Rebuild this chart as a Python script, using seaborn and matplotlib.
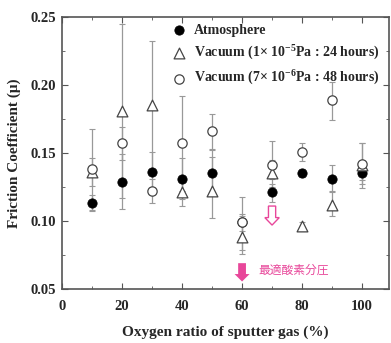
import numpy as np
import pandas as pd
import matplotlib
matplotlib.use('Agg')
import matplotlib.pyplot as plt
import seaborn as sns
from matplotlib.ticker import MultipleLocator

# Oxygen ratio (%)
oxygen = [10, 20, 30, 40, 50, 60, 70, 80, 90, 100]

# Friction coefficient, atmosphere
atm = [0.113, 0.129, 0.136, 0.131, 0.135, 0.099, 0.121, 0.135, 0.131, 0.135]
atm_lo = [0.006, 0.020, 0.016, 0.015, 0.015, 0.006, 0.007, 0.003, 0.010, 0.008]
atm_hi = [0.006, 0.020, 0.015, 0.015, 0.012, 0.006, 0.006, 0.003, 0.010, 0.008]

# Vacuum 1e-5 Pa, 24 h
vac24 = [0.136, 0.181, 0.185, 0.121, 0.122, 0.088, 0.135, 0.096, 0.112, 0.141]
vac24_lo = [0.010, 0.064, 0.047, 0.010, 0.020, 0.012, 0.010, 0.003, 0.008, 0.017]
vac24_hi = [0.010, 0.064, 0.047, 0.008, 0.030, 0.016, 0.010, 0.003, 0.010, 0.016]

# Vacuum 7e-6 Pa, 48 h
vac48 = [0.138, 0.157, 0.122, 0.157, 0.166, 0.099, 0.141, 0.151, 0.189, 0.142]
vac48_lo = [0.030, 0.012, 0.009, 0.035, 0.013, 0.020, 0.010, 0.007, 0.015, 0.012]
vac48_hi = [0.030, 0.012, 0.009, 0.035, 0.013, 0.019, 0.018, 0.006, 0.013, 0.015]

labels = ['Atmosphere',
          'Vacuum (1× 10$^{-5}$Pa : 24 hours)',
          'Vacuum (7× 10$^{-6}$Pa : 48 hours)']

sns.set_style('ticks')
plt.rcParams['font.family'] = ['Liberation Serif', 'DejaVu Serif']
plt.rcParams['mathtext.fontset'] = 'custom'
plt.rcParams['mathtext.rm'] = 'Liberation Serif:bold'
plt.rcParams['mathtext.it'] = 'Liberation Serif:bold'
plt.rcParams['mathtext.bf'] = 'Liberation Serif:bold'

fig = plt.figure(figsize=(3.91, 3.43), dpi=100)
ax = fig.add_axes([0.1586, 0.1574, 0.8365, 0.7930])

err_kw = dict(fmt='none', ecolor='#999999', elinewidth=0.9, capsize=2.5, capthick=0.8, zorder=1)
ax.errorbar(oxygen, vac48, yerr=[vac48_lo, vac48_hi], **err_kw)
ax.errorbar(oxygen, vac24, yerr=[vac24_lo, vac24_hi], **err_kw)
ax.errorbar(oxygen, atm, yerr=[atm_lo, atm_hi], **err_kw)

df = pd.DataFrame({
    'x': oxygen * 3,
    'y': atm + vac24 + vac48,
    'series': [labels[0]] * 10 + [labels[1]] * 10 + [labels[2]] * 10,
})
sns.scatterplot(data=df[df.series == labels[0]], x='x', y='y', ax=ax, marker='o',
                s=45, color='black', edgecolor='black', zorder=3, label=labels[0])
sns.scatterplot(data=df[df.series == labels[1]], x='x', y='y', ax=ax, marker='^',
                s=60, facecolor='white', edgecolor='#444444', linewidth=0.9, zorder=3, label=labels[1])
sns.scatterplot(data=df[df.series == labels[2]], x='x', y='y', ax=ax, marker='o',
                s=45, facecolor='white', edgecolor='#444444', linewidth=0.9, zorder=4, label=labels[2])

ax.set_xlim(0, 109)
ax.set_ylim(0.05, 0.25)
ax.xaxis.set_major_locator(MultipleLocator(20))
ax.xaxis.set_minor_locator(MultipleLocator(10))
ax.yaxis.set_major_locator(MultipleLocator(0.05))
ax.yaxis.set_minor_locator(MultipleLocator(0.025))
ax.set_yticklabels([f'{v:.2f}' for v in ax.get_yticks()])
ax.tick_params(which='both', direction='in', top=True, right=True, color='#555555')
ax.tick_params(axis='y', which='major', length=4, labelsize=10.5, pad=4)
ax.tick_params(axis='x', which='major', length=4, labelsize=10.5, pad=8)
ax.tick_params(which='minor', length=2.5)
for lab in ax.get_xticklabels() + ax.get_yticklabels():
    lab.set_fontweight('bold')
for sp in ax.spines.values():
    sp.set_color('#555555')
    sp.set_linewidth(1.2)

ax.set_xlabel('Oxygen ratio of sputter gas (%)', fontsize=11, fontweight='bold', labelpad=9)
ax.set_ylabel('Friction Coefficient (μ)', fontsize=11, fontweight='bold', labelpad=7)

leg = ax.legend(loc='upper right', bbox_to_anchor=(1.0, 1.01), frameon=False,
                prop={'weight': 'bold', 'size': 10}, handletextpad=0.6,
                labelspacing=0.5, borderpad=0.2, handlelength=1.0)

# pink annotation arrows
pink = '#e8479a'
ax.arrow(60, 0.069, 0, -0.0135, width=2.6, head_width=5.0, head_length=0.0055,
         length_includes_head=True, color=pink, lw=0, zorder=5)
ax.arrow(70, 0.111, 0, -0.014, width=2.4, head_width=4.8, head_length=0.0055,
         length_includes_head=True, facecolor='white', edgecolor=pink, lw=1.0, zorder=5)
ax.text(65.3, 0.0635, '最適酸素分圧', color=pink, fontsize=8.5, style='italic',
        family=['Noto Sans CJK JP', 'DejaVu Sans'], va='center', ha='left')

fig.savefig('out.png', dpi=100)
